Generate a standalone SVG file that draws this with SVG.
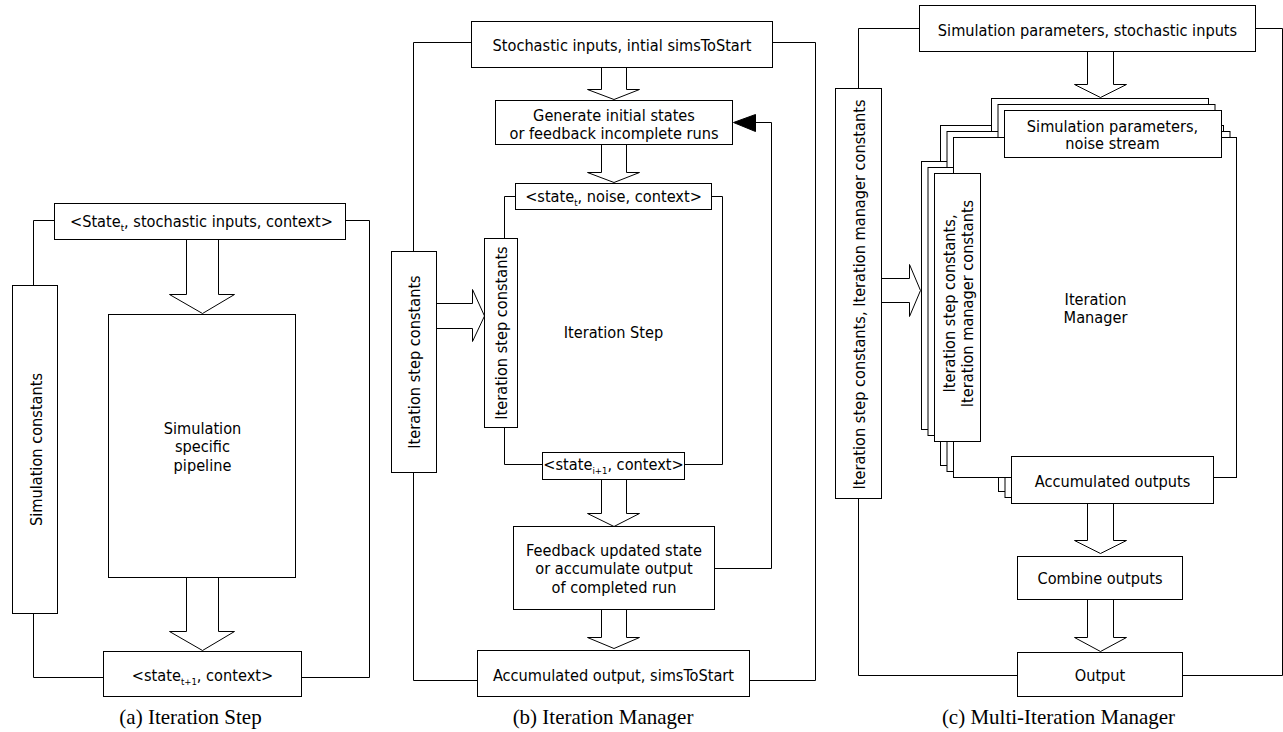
<svg xmlns="http://www.w3.org/2000/svg" width="1283" height="732" viewBox="0 0 1283 732">
<style>
.b{fill:#fff;stroke:#000;stroke-width:1}
.c{fill:none;stroke:#000;stroke-width:1}
.ar{fill:#fff;stroke:#000;stroke-width:1}
.t{font-family:'DejaVu Sans Condensed','DejaVu Sans','Liberation Sans',sans-serif;font-size:16.2px;text-anchor:middle;fill:#000}
.sub{font-size:9.5px}
.cap{font-family:'Liberation Serif','Times New Roman',serif;font-size:21px;text-anchor:middle;fill:#000}
</style>
<rect x="0" y="0" width="1283" height="732" fill="#fff"/>
<g transform="translate(0.5,0.5)">
<!-- ===== Panel (a) ===== -->
<g id="connectors-a">
<polyline class="c" points="54,220 33,220 33,285"/>
<polyline class="c" points="33,613 33,677 103,677"/>
<polyline class="c" points="345,220 369,220 369,677 301,677"/>
<polygon class="ar" points="186,239 218,239 218,294 234,294 202,313 169,294 186,294"/>
<polygon class="ar" points="186,577 218,577 218,631 234,631 202,650 169,631 186,631"/>
</g>
<g id="a-top">
<rect class="b" x="54" y="203" width="291" height="36"/>
<text class="t" x="201" y="226.5">&lt;State<tspan class="sub" dy="4">t</tspan><tspan dy="-4">, stochastic inputs, context&gt;</tspan></text>
</g>
<g id="a-simconst">
<rect class="b" x="12" y="285" width="45" height="328"/>
<text class="t" transform="translate(35,449) rotate(-90)" x="0" y="6">Simulation constants</text>
</g>
<g id="a-pipeline">
<rect class="b" x="108" y="314" width="187" height="263"/>
<text class="t" x="202" y="433">Simulation</text>
<text class="t" x="202" y="451.5">specific</text>
<text class="t" x="202" y="470">pipeline</text>
</g>
<g id="a-bottom">
<rect class="b" x="103" y="651" width="198" height="45"/>
<text class="t" x="202" y="680">&lt;state<tspan class="sub" dy="4">t+1</tspan><tspan dy="-4">, context&gt;</tspan></text>
</g>
<text class="cap" x="190" y="723">(a) Iteration Step</text>

<!-- ===== Panel (b) ===== -->
<g id="connectors-b">
<polyline class="c" points="471,42 413,42 413,251"/>
<polyline class="c" points="413,472 413,680 477,680"/>
<polyline class="c" points="772,42 815,42 815,680 749,680"/>
<polyline class="c" points="515,196 504,196 504,238"/>
<polyline class="c" points="504,427 504,464 542,464"/>
<polyline class="c" points="684,464 722,464 722,196 711,196"/>
<polyline class="c" points="714,568 771,568 771,122 755,122"/>
<polygon points="733,122 755,114 755,131" fill="#000" stroke="#000"/>
<polygon class="ar" points="601,67 626,67 626,89 639,89 613.5,99 587,89 601,89"/>
<polygon class="ar" points="601,144 626,144 626,172 639,172 613.5,182 587,172 601,172"/>
<polygon class="ar" points="601,479 626,479 626,513 639,513 613.5,526 587,513 601,513"/>
<polygon class="ar" points="601,609 626,609 626,637 639,637 613.5,648 587,637 601,637"/>
<polygon class="ar" points="436,303 472,303 472,289 484,315.5 472,341 472,328 436,328"/>
</g>
<g id="b-top">
<rect class="b" x="471" y="21" width="301" height="46"/>
<text class="t" x="621.5" y="50">Stochastic inputs, intial simsToStart</text>
</g>
<g id="b-generate">
<rect class="b" x="495" y="100" width="237" height="44"/>
<text class="t" x="613.5" y="120">Generate initial states</text>
<text class="t" x="613.5" y="138">or feedback incomplete runs</text>
</g>
<g id="b-statet">
<rect class="b" x="515" y="183" width="196" height="26"/>
<text class="t" x="613" y="201">&lt;state<tspan class="sub" dy="4">t</tspan><tspan dy="-4">, noise, context&gt;</tspan></text>
</g>
<g id="b-iterstep">
<text class="t" x="613" y="337">Iteration Step</text>
</g>
<g id="b-innerconst">
<rect class="b" x="484" y="238" width="33" height="189"/>
<text class="t" transform="translate(500.5,332.5) rotate(-90)" x="0" y="6">Iteration step constants</text>
</g>
<g id="b-outerconst">
<rect class="b" x="391" y="251" width="45" height="221"/>
<text class="t" transform="translate(413.5,361.5) rotate(-90)" x="0" y="6">Iteration step constants</text>
</g>
<g id="b-statei1">
<rect class="b" x="542" y="452" width="142" height="27"/>
<text class="t" x="613" y="469">&lt;state<tspan class="sub" dy="4">i+1</tspan><tspan dy="-4">, context&gt;</tspan></text>
</g>
<g id="b-feedback">
<rect class="b" x="513" y="526" width="201" height="83"/>
<text class="t" x="613.5" y="555">Feedback updated state</text>
<text class="t" x="613.5" y="573.5">or accumulate output</text>
<text class="t" x="613.5" y="592">of completed run</text>
</g>
<g id="b-bottom">
<rect class="b" x="477" y="650" width="272" height="46"/>
<text class="t" x="613" y="680">Accumulated output, simsToStart</text>
</g>
<text class="cap" x="602.5" y="723">(b) Iteration Manager</text>

<!-- ===== Panel (c) ===== -->
<g id="connectors-c">
<polyline class="c" points="919,28 858,28 858,88"/>
<polyline class="c" points="858,498 858,675 1017,675"/>
<polyline class="c" points="1255,28 1282,28 1282,675 1182,675"/>
<polygon class="ar" points="1087,51 1113,51 1113,84 1126,84 1100,97 1074,84 1087,84"/>
<polygon class="ar" points="881,278 909,278 909,264 920,290 909,316 909,302 881,302"/>
<polygon class="ar" points="1087,503 1113,503 1113,540 1126,540 1100,553 1074,540 1087,540"/>
<polygon class="ar" points="1087,599 1113,599 1113,637 1126,637 1100,651 1074,637 1087,637"/>
</g>
<g id="c-top">
<rect class="b" x="919" y="5" width="336" height="46"/>
<text class="t" x="1087" y="35">Simulation parameters, stochastic inputs</text>
</g>
<g id="c-outerconst">
<rect class="b" x="835" y="88" width="46" height="410"/>
<text class="t" transform="translate(858,294) rotate(-90)" x="0" y="6">Iteration step constants, Iteration manager constants</text>
</g>
<g id="c-manager-back" transform="translate(-13,-12)">
<rect class="b" x="953" y="137" width="283" height="340"/>
<rect class="b" x="1004" y="110" width="217" height="47"/>
<rect class="b" x="934" y="173" width="46" height="268"/>
<rect class="b" x="1011" y="456" width="202" height="47"/>
</g>
<g id="c-manager-mid" transform="translate(-6.5,-6)">
<rect class="b" x="953" y="137" width="283" height="340"/>
<rect class="b" x="1004" y="110" width="217" height="47"/>
<rect class="b" x="934" y="173" width="46" height="268"/>
<rect class="b" x="1011" y="456" width="202" height="47"/>
</g>
<g id="c-manager">
<rect class="b" x="953" y="137" width="283" height="340"/>
<text class="t" x="1095" y="304">Iteration</text>
<text class="t" x="1095" y="322">Manager</text>
</g>
<g id="c-simparams">
<rect class="b" x="1004" y="110" width="217" height="47"/>
<text class="t" x="1112" y="131">Simulation parameters,</text>
<text class="t" x="1112" y="148.5">noise stream</text>
</g>
<g id="c-innerconst">
<rect class="b" x="934" y="173" width="46" height="268"/>
<text class="t" transform="translate(957,303) rotate(-90)"><tspan x="0" y="-2.5">Iteration step constants,</tspan><tspan x="0" y="15.5">Iteration manager constants</tspan></text>
</g>
<g id="c-accum">
<rect class="b" x="1011" y="456" width="202" height="47"/>
<text class="t" x="1112" y="486">Accumulated outputs</text>
</g>
<g id="c-combine">
<rect class="b" x="1017" y="556" width="165" height="43"/>
<text class="t" x="1099.5" y="583">Combine outputs</text>
</g>
<g id="c-output">
<rect class="b" x="1017" y="652" width="165" height="44"/>
<text class="t" x="1099.5" y="680">Output</text>
</g>
<text class="cap" x="1058" y="723">(c) Multi-Iteration Manager</text>
</g>
</svg>
